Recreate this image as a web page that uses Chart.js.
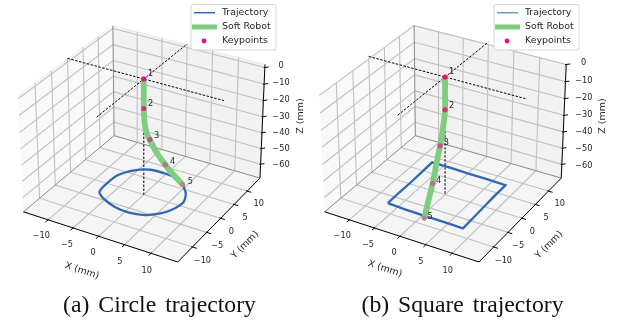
<!DOCTYPE html>
<html>
<head>
<meta charset="utf-8">
<script src="https://cdn.jsdelivr.net/npm/chart.js@4"></script>
<style>
  html, body { margin: 0; padding: 0; background: #fff; }
  #wrap { position: relative; width: 622px; height: 322px; overflow: hidden; }
  .panel { position: absolute; top: 0; width: 311px; height: 322px; }
  canvas { display: block; filter: blur(0.35px); }
</style>
</head>
<body>
<div id="wrap">
  <div class="panel" style="left:0"><canvas id="circlePlot" width="311" height="322"></canvas></div>
  <div class="panel" style="left:311px"><canvas id="squarePlot" width="311" height="322"></canvas></div>
</div>
<script>
// --- data (mm) ---
const xTicks = [-10, -5, 0, 5, 10];
const yTicks = [-10, -5, 0, 5, 10];
const zTicks = [0, -10, -20, -30, -40, -50, -60];
const seriesNames = ['Trajectory', 'Soft Robot', 'Keypoints'];
const keypointNames = ['1', '2', '3', '4', '5'];

// circle run
const circleTrajX = [4.58, 6.58, 7.6, 6.95, 5.58, 3.89, 1.03, -1.77, -4.9, -6.6, -6.93, -6.63, -5.0, -2.6, 0.4, 2.7, 4.58];
const circleTrajY = [5.56, 3.1, 0.41, -2.92, -5.04, -6.4, -7.1, -6.8, -5.4, -3.9, -0.81, 2.6, 5.3, 6.9, 7.05, 6.6, 5.56];
const circleTrajZ = -67;
const circleRobotX = [0, 0, 0, 0.1, 0.35, 0.7, 1.4, 2.5, 3.45, 4.6];
const circleRobotY = [0, 0, 0, 0.14, 0.42, 0.83, 1.67, 3.06, 4.17, 5.56];
const circleRobotZ = [2.2, -6.9, -15.4, -24.7, -31, -35, -43, -52.6, -59.6, -67.4];
const circleKeyX = [0, 0, 0.7, 2.5, 4.6];
const circleKeyY = [0, 0, 0.83, 3.06, 5.56];
const circleKeyZ = [2.2, -15.4, -35, -52.6, -67.4];

// square run
const squareTrajX = [-6.7, -3, 0.8, 4.5, 8.3, 8.2, 8.1, 8, 8, 4.2, 0.5, -3, -7, -6.9, -6.8, -6.8, -6.7];
const squareTrajY = [-8, -8.2, -8.3, -8.3, -8.4, -4.5, -0.5, 3.3, 7.2, 7.4, 7.4, 7.5, 7.5, 3.8, 0, -4, -8];
const squareTrajZ = -67;
const squareRobotX = [0, 0, 0, 0.08, 0.2, 0.34, 0.5, 0.69, 0.84];
const squareRobotY = [0, 0, 0, -0.76, -2, -3.47, -5.08, -6.95, -8.47];
const squareRobotZ = [1.5, -7.7, -17.4, -26, -35.5, -43.4, -53, -61, -68];
const squareKeyX = [0, 0, 0.2, 0.5, 0.84];
const squareKeyY = [0, 0, -2, -5.08, -8.47];
const squareKeyZ = [1.5, -17.4, -35.5, -53, -68];

// 3d box camera, same as the default mplot3d view (elev 30, azim -60)
const box = [1.1429, 1.1429, 0.8571];
const camN = [0.433, -0.75, 0.5];
const camU = [0.866, 0.5, 0];
const camV = [-0.25, 0.433, 0.866];
const dot = (a, b) => a[0] * b[0] + a[1] * b[1] + a[2] * b[2];

function makeProjector(lim, cx, cy, scale) {
  return (x, y, z) => {
    const p = [
      ((x - lim.x[0]) / (lim.x[1] - lim.x[0]) - 0.5) * box[0],
      ((y - lim.y[0]) / (lim.y[1] - lim.y[0]) - 0.5) * box[1],
      ((z - lim.z[0]) / (lim.z[1] - lim.z[0]) - 0.5) * box[2]
    ];
    const d = 10 - dot(p, camN);
    return { x: cx + scale * dot(p, camU) / d, y: cy - scale * dot(p, camV) / d };
  };
}

function drawPanel(id, cfg) {
  const lim = cfg.lim;
  const [x0, x1] = lim.x, [y0, y1] = lim.y, [z0, z1] = lim.z;
  const proj = makeProjector(lim, cfg.cx, cfg.cy, 1588);
  const datasets = [];
  const line = (pts, color, width, extra) => datasets.push(Object.assign({
    data: pts.map(p => proj(p[0], p[1], p[2])),
    showLine: true, borderColor: color, borderWidth: width, pointRadius: 0, tension: 0, fill: false
  }, extra || {}));
  const pane = (pts, color) => line(pts, '#e6e6e6', 0.8, { fill: 'shape', backgroundColor: color });

  // panes
  pane([[x0, y0, z0], [x0, y1, z0], [x0, y1, z1], [x0, y0, z1]], '#f9f9f9');
  pane([[x0, y1, z0], [x1, y1, z0], [x1, y1, z1], [x0, y1, z1]], '#f2f2f2');
  pane([[x0, y0, z0], [x1, y0, z0], [x1, y1, z0], [x0, y1, z0]], '#f5f5f5');

  // grid
  const gridColor = '#c0c0c0';
  xTicks.forEach(t => {
    line([[t, y0, z0], [t, y1, z0], [t, y1, z1]], gridColor, 1.1);
  });
  yTicks.forEach(t => {
    line([[x1, t, z0], [x0, t, z0], [x0, t, z1]], gridColor, 1.1);
  });
  zTicks.forEach(t => {
    line([[x0, y0, t], [x0, y1, t], [x1, y1, t]], gridColor, 1.1);
  });

  // box edges
  line([[x0, y1, z1], [x0, y1, z0], [x0, y0, z0]], '#8c8c8c', 1);
  line([[x0, y1, z0], [x1, y1, z0]], '#8c8c8c', 1);
  line([[x0, y0, z0], [x1, y0, z0], [x1, y1, z0], [x1, y1, z1]], '#000', 1);

  // tick marks
  xTicks.forEach(t => line([[t, y0 + 0.2, z0], [t, y0 - 0.8, z0]], '#000', 1));
  yTicks.forEach(t => line([[x1 - 0.2, t, z0], [x1 + 0.8, t, z0]], '#000', 1));
  zTicks.forEach(t => line([[x1 - 0.15, y1 - 0.15, t], [x1 + 0.5, y1 + 0.5, t]], '#000', 1));

  // dashed guides through the base
  const dash = { borderDash: [2.5, 1.5] };
  line([[x0, 0, cfg.crossZ], [x1, 0, cfg.crossZ]], '#000', 1, dash);
  line([[0, y0, cfg.crossZ], [0, y1, cfg.crossZ]], '#000', 1, dash);
  line([[0, 0, cfg.dropZ], [0, 0, z0]], '#000', 1, dash);

  // trajectory, robot, keypoints
  line(cfg.trajX.map((v, i) => [v, cfg.trajY[i], cfg.trajZ]), '#2f68b4', 2.3, { tension: cfg.trajTension });
  line(cfg.robotX.map((v, i) => [v, cfg.robotY[i], cfg.robotZ[i]]), '#7fcd7f', 5.8, { tension: 0.3 });
  const keyPts = cfg.keyX.map((v, i) => proj(v, cfg.keyY[i], cfg.keyZ[i]));
  datasets.push({
    data: keyPts, showLine: false, pointRadius: 2.6, pointBorderWidth: 0,
    pointBackgroundColor: ['#ea0f80', '#dc2a80', '#c84f84', '#b87088', '#a98a88']
  });
  datasets.forEach((d, i) => { d.order = datasets.length - i; });

  const labels = {
    id: 'panelLabels',
    afterDatasetsDraw(chart) {
      const ctx = chart.ctx;
      const text = (s, x, y, size, rot, align, family, color) => {
        ctx.save();
        ctx.translate(x, y);
        ctx.rotate((rot || 0) * Math.PI / 180);
        ctx.font = size + 'px ' + (family || '"DejaVu Sans"');
        ctx.fillStyle = color || '#262626';
        ctx.textAlign = align || 'center';
        ctx.textBaseline = 'middle';
        ctx.fillText(s, 0, 0);
        ctx.restore();
      };
      const fmt = v => String(v).replace('-', '\u2212');

      xTicks.forEach(t => {
        const p = proj(t, y0, z0);
        text(fmt(t), p.x - 4, p.y + 15, 8.2);
      });
      yTicks.forEach(t => {
        const p = proj(x1, t, z0);
        text(fmt(t), p.x + 9, p.y + 12, 8.2);
      });
      zTicks.forEach(t => {
        const p = proj(x1, y1, t);
        text(fmt(t), cfg.zLabelX, p.y + 1, 8.2);
      });
      keyPts.forEach((p, i) => text(keypointNames[i], p.x + 7, p.y - 3, 8.2));

      text('X (mm)', cfg.xTitle[0], cfg.xTitle[1], 9.5, 18);
      text('Y (mm)', cfg.yTitle[0], cfg.yTitle[1], 9.5, -45);
      text('Z (mm)', cfg.zTitle[0], cfg.zTitle[1], 9.5, -90);

      // legend frame and entries
      const lx = cfg.legendX;
      ctx.save();
      ctx.beginPath();
      ctx.roundRect(lx, 4.5, 85, 45.5, 2);
      ctx.fillStyle = 'rgba(255,255,255,0.85)';
      ctx.fill();
      ctx.strokeStyle = '#d6d6d6';
      ctx.lineWidth = 1;
      ctx.stroke();
      ctx.beginPath();
      ctx.moveTo(lx + 3, 12.7);
      ctx.lineTo(lx + 24, 12.7);
      ctx.strokeStyle = cfg.legendLine;
      ctx.lineWidth = 1.5;
      ctx.stroke();
      ctx.beginPath();
      ctx.moveTo(lx + 1, 27);
      ctx.lineTo(lx + 26, 27);
      ctx.strokeStyle = '#7fcd7f';
      ctx.lineWidth = 5;
      ctx.stroke();
      ctx.beginPath();
      ctx.arc(lx + 13, 41, 2.4, 0, Math.PI * 2);
      ctx.fillStyle = '#ea0f80';
      ctx.fill();
      ctx.restore();
      text(seriesNames[0], lx + 31, 12.7, 9.4, 0, 'left');
      text(seriesNames[1], lx + 31, 27, 9.4, 0, 'left');
      text(seriesNames[2], lx + 31, 41, 9.4, 0, 'left');

      ctx.save();
      ctx.wordSpacing = '3px';
      text(cfg.caption, cfg.captionX, 306, 23.7, 0, 'center', '"Liberation Serif"', '#111');
      ctx.restore();
    }
  };

  new Chart(document.getElementById(id), {
    type: 'scatter',
    data: { datasets },
    plugins: [labels],
    options: {
      responsive: false,
      animation: false,
      events: [],
      layout: { padding: 0 },
      plugins: { legend: { display: false }, tooltip: { enabled: false } },
      scales: {
        x: { type: 'linear', min: 0, max: 311, display: false },
        y: { type: 'linear', min: 0, max: 322, reverse: true, display: false }
      }
    }
  });
}

drawPanel('circlePlot', {
  lim: { x: [-15, 15], y: [-15, 15], z: [-69, 1.8] },
  cx: 143.5, cy: 137.8,
  crossZ: 2.2, dropZ: -30,
  trajX: circleTrajX, trajY: circleTrajY, trajZ: circleTrajZ, trajTension: 0.25,
  robotX: circleRobotX, robotY: circleRobotY, robotZ: circleRobotZ,
  keyX: circleKeyX, keyY: circleKeyY, keyZ: circleKeyZ,
  zLabelX: 281,
  xTitle: [82, 271], yTitle: [245, 245], zTitle: [301, 116],
  legendX: 191, legendLine: '#2f68b4',
  caption: '(a) Circle trajectory', captionX: 159.5
});

drawPanel('squarePlot', {
  lim: { x: [-15, 15], y: [-15, 15], z: [-68.6, 0] },
  cx: 133.5, cy: 137.8,
  crossZ: 1.5, dropZ: -30,
  trajX: squareTrajX, trajY: squareTrajY, trajZ: squareTrajZ, trajTension: 0,
  robotX: squareRobotX, robotY: squareRobotY, robotZ: squareRobotZ,
  keyX: squareKeyX, keyY: squareKeyY, keyZ: squareKeyZ,
  zLabelX: 272.7,
  xTitle: [74, 269], yTitle: [238, 245], zTitle: [292, 116],
  legendX: 183, legendLine: '#7096c8',
  caption: '(b) Square trajectory', captionX: 151.5
});
</script>
</body>
</html>
